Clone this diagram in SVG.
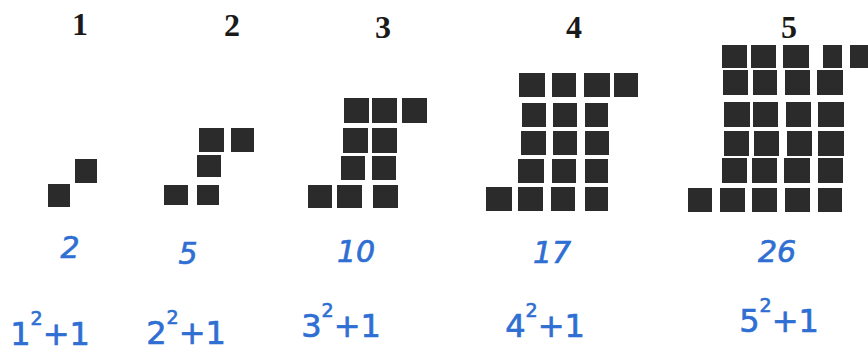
<svg xmlns="http://www.w3.org/2000/svg" width="868" height="352" viewBox="0 0 868 352">
<style>
.sq{fill:#2b2b2b}
.num{font-family:"Liberation Serif",serif;font-weight:bold;font-size:32px;fill:#1a1a1a;text-anchor:middle}
.hw{font-family:"DejaVu Sans",sans-serif;font-size:30px;fill:#2f6fd3;stroke:#2f6fd3;stroke-width:0.7;text-anchor:middle;font-style:italic}
.fm{font-family:"DejaVu Sans",sans-serif;font-size:32px;fill:#2f6fd3;stroke:#2f6fd3;stroke-width:0.7;text-anchor:middle}
.sup{font-size:19px}
</style>
<rect width="868" height="352" fill="#ffffff"/>
<g id="fig1">
<text class="num" x="80" y="35">1</text>
<rect class="sq" x="48" y="184" width="22" height="23"/>
<rect class="sq" x="75" y="159" width="22" height="24"/>
<text class="hw" x="70" y="258">2</text>
<text class="fm" x="50" y="345">1<tspan class="sup" dy="-20">2</tspan><tspan dy="20">+1</tspan></text>
</g>
<g id="fig2">
<text class="num" x="232" y="36">2</text>
<rect class="sq" x="164" y="185" width="24" height="20"/>
<rect class="sq" x="197" y="185" width="22" height="20"/>
<rect class="sq" x="197" y="155" width="24" height="22"/>
<rect class="sq" x="199" y="128" width="25" height="24"/>
<rect class="sq" x="231" y="128" width="23" height="24"/>
<text class="hw" x="188" y="264">5</text>
<text class="fm" x="186" y="344">2<tspan class="sup" dy="-20">2</tspan><tspan dy="20">+1</tspan></text>
</g>
<g id="fig3">
<text class="num" x="383" y="38">3</text>
<rect class="sq" x="344" y="98" width="25" height="25"/>
<rect class="sq" x="372" y="98" width="25" height="25"/>
<rect class="sq" x="402" y="98" width="25" height="25"/>
<rect class="sq" x="343" y="128" width="25" height="25"/>
<rect class="sq" x="372" y="128" width="25" height="25"/>
<rect class="sq" x="341" y="156" width="24" height="24"/>
<rect class="sq" x="372" y="156" width="24" height="24"/>
<rect class="sq" x="308" y="185" width="24" height="23"/>
<rect class="sq" x="337" y="185" width="25" height="23"/>
<rect class="sq" x="373" y="185" width="25" height="23"/>
<text class="hw" x="356" y="262">10</text>
<text class="fm" x="341" y="337">3<tspan class="sup" dy="-20">2</tspan><tspan dy="20">+1</tspan></text>
</g>
<g id="fig4">
<text class="num" x="574" y="38">4</text>
<rect class="sq" x="519" y="73" width="26" height="24"/>
<rect class="sq" x="552" y="73" width="24" height="24"/>
<rect class="sq" x="584" y="73" width="26" height="24"/>
<rect class="sq" x="614" y="73" width="24" height="24"/>
<rect class="sq" x="522" y="103" width="24" height="24"/>
<rect class="sq" x="553" y="103" width="24" height="24"/>
<rect class="sq" x="585" y="103" width="23" height="24"/>
<rect class="sq" x="521" y="131" width="25" height="24"/>
<rect class="sq" x="553" y="131" width="24" height="24"/>
<rect class="sq" x="585" y="131" width="24" height="24"/>
<rect class="sq" x="518" y="159" width="26" height="24"/>
<rect class="sq" x="552" y="159" width="24" height="24"/>
<rect class="sq" x="585" y="159" width="23" height="24"/>
<rect class="sq" x="486" y="187" width="26" height="24"/>
<rect class="sq" x="518" y="187" width="25" height="24"/>
<rect class="sq" x="551" y="187" width="24" height="24"/>
<rect class="sq" x="585" y="187" width="23" height="24"/>
<text class="hw" x="552" y="263">17</text>
<text class="fm" x="545" y="337">4<tspan class="sup" dy="-20">2</tspan><tspan dy="20">+1</tspan></text>
</g>
<g id="fig5">
<text class="num" x="789" y="38">5</text>
<rect class="sq" x="722" y="45" width="25" height="23"/>
<rect class="sq" x="751" y="45" width="25" height="23"/>
<rect class="sq" x="783" y="45" width="26" height="23"/>
<rect class="sq" x="823" y="45" width="19" height="23"/>
<rect class="sq" x="850" y="45" width="18" height="23"/>
<rect class="sq" x="723" y="70" width="25" height="25"/>
<rect class="sq" x="753" y="70" width="24" height="25"/>
<rect class="sq" x="785" y="70" width="25" height="25"/>
<rect class="sq" x="817" y="70" width="26" height="25"/>
<rect class="sq" x="724" y="102" width="26" height="25"/>
<rect class="sq" x="753" y="102" width="25" height="25"/>
<rect class="sq" x="786" y="102" width="25" height="25"/>
<rect class="sq" x="818" y="102" width="26" height="25"/>
<rect class="sq" x="724" y="131" width="25" height="25"/>
<rect class="sq" x="754" y="131" width="25" height="25"/>
<rect class="sq" x="787" y="131" width="25" height="25"/>
<rect class="sq" x="818" y="131" width="26" height="25"/>
<rect class="sq" x="722" y="158" width="25" height="25"/>
<rect class="sq" x="752" y="158" width="25" height="25"/>
<rect class="sq" x="784" y="158" width="26" height="25"/>
<rect class="sq" x="818" y="158" width="25" height="25"/>
<rect class="sq" x="688" y="188" width="24" height="24"/>
<rect class="sq" x="720" y="188" width="25" height="24"/>
<rect class="sq" x="752" y="188" width="25" height="24"/>
<rect class="sq" x="785" y="188" width="25" height="24"/>
<rect class="sq" x="818" y="188" width="24" height="24"/>
<text class="hw" x="777" y="262">26</text>
<text class="fm" x="779" y="332">5<tspan class="sup" dy="-20">2</tspan><tspan dy="20">+1</tspan></text>
</g>
<g id="connectors"/>
</svg>
